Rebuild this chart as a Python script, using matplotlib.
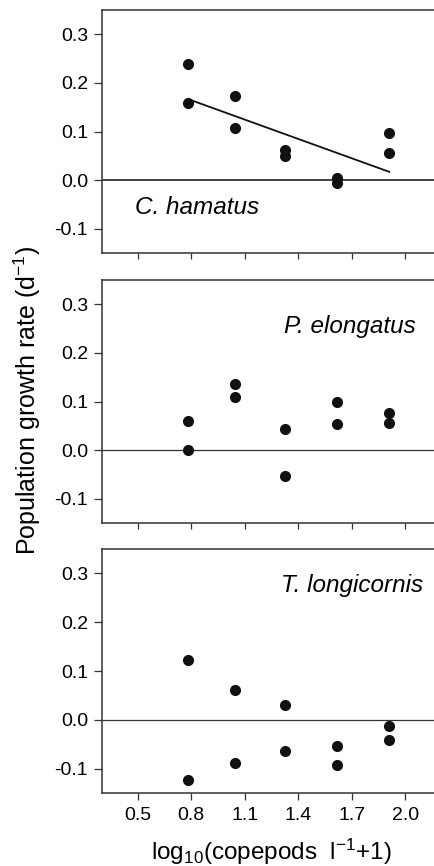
import matplotlib
matplotlib.use("Agg")
import matplotlib.pyplot as plt

plt.rcParams['font.family'] = ['Liberation Sans', 'DejaVu Sans']
plt.rcParams['mathtext.fontset'] = 'custom'
plt.rcParams['mathtext.rm'] = 'Liberation Sans'
plt.rcParams['mathtext.it'] = 'Liberation Sans:italic'

# x positions: log10(copepods l-1 + 1), two replicates per level
x_vals = [0.78, 0.78, 1.045, 1.045, 1.325, 1.325, 1.615, 1.615, 1.91, 1.91]

# population growth rates (d-1)
hamatus = [0.239, 0.158, 0.173, 0.108, 0.062, 0.049, 0.005, -0.006, 0.096, 0.055]
elongatus = [0.059, 0.0, 0.137, 0.109, 0.043, -0.053, 0.099, 0.053, 0.077, 0.056]
longicornis = [0.123, -0.124, 0.062, -0.089, 0.031, -0.063, -0.053, -0.093, -0.013, -0.042]

# regression for C. hamatus
fit_x = [0.78, 1.91]
fit_y = [0.167, 0.017]

species = ['C. hamatus', 'P. elongatus', 'T. longicornis']
x_ticks = [0.5, 0.8, 1.1, 1.4, 1.7, 2.0]
y_ticks = [-0.1, 0.0, 0.1, 0.2, 0.3]

fig = plt.figure(figsize=(4.34, 8.66), dpi=100)

# axes boxes in pixels (left, top, right, bottom); right side runs off the figure
boxes = [(102, 10, 441, 253), (102, 280, 441, 523), (102, 549, 441, 793)]
W, H = 434.0, 866.0

axes = []
for (l, t, r, b) in boxes:
    ax = fig.add_axes([l / W, 1 - b / H, (r - l) / W, (b - t) / H])
    axes.append(ax)

data = [hamatus, elongatus, longicornis]
for i, ax in enumerate(axes):
    ax.axhline(0, color='#333333', lw=1.3 if i == 0 else 0.9, zorder=1)
    ax.plot(x_vals, data[i], 'o', color='#111111', ms=7, zorder=3)
    ax.set_xlim(0.3, 2.2)
    ax.set_ylim(-0.15, 0.35)
    ax.set_xticks(x_ticks)
    ax.set_yticks(y_ticks)
    ax.set_yticklabels(['%.1f' % v for v in y_ticks])
    ax.tick_params(direction='out', width=0.9, color='#333333', labelsize=14)
    ax.tick_params(axis='y', length=6, pad=4)
    ax.tick_params(axis='x', length=5 if i == 2 else 4, pad=5)
    for s in ['left', 'top', 'bottom']:
        ax.spines[s].set_linewidth(1.1)
        ax.spines[s].set_color('#333333')
    ax.spines['right'].set_visible(False)
    if i < 2:
        ax.set_xticklabels([])

axes[0].plot(fit_x, fit_y, color='#111111', lw=1.3, zorder=2)

axes[0].text(0.485, -0.057, species[0], style='italic', fontsize=17.5,
             ha='left', va='center')
axes[1].text(2.06, 0.255, species[1], style='italic', fontsize=17.5,
             ha='right', va='center')
axes[2].text(2.10, 0.276, species[2], style='italic', fontsize=17.5,
             ha='right', va='center')

axes[2].set_xlabel(r'log$_{10}$(copepods  l$^{-1}$+1)', fontsize=17.5, labelpad=9)

fig.text(27 / W, 1 - 400 / H, r'Population growth rate (d$^{-1}$)',
         rotation=90, ha='center', va='center', fontsize=18)

fig.savefig('out.png', dpi=100)
